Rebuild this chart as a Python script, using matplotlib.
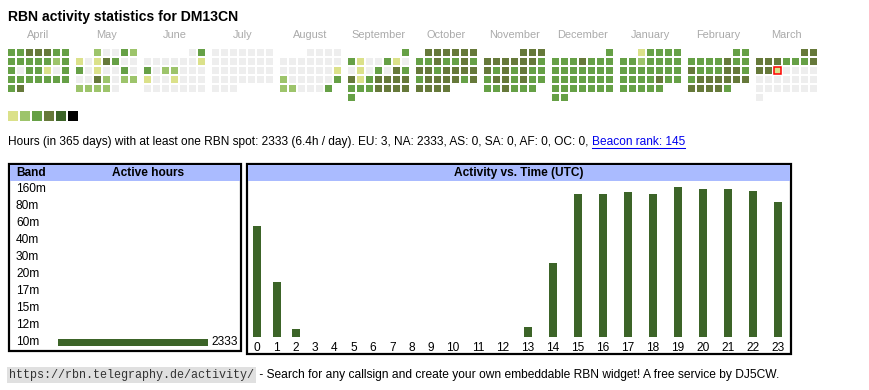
import datetime as dt
import matplotlib
matplotlib.use("Agg")
import matplotlib.pyplot as plt
from matplotlib.patches import Rectangle
from matplotlib.transforms import blended_transform_factory

W, H, DPI = 870, 390, 100
SANS = "Liberation Sans"
MONO = "Liberation Mono"

# ---------------- data ----------------
title = "RBN activity statistics for DM13CN"
month_names = ["April", "May", "June", "July", "August", "September",
               "October", "November", "December", "January", "February", "March"]
month_keys = [(2024, 4), (2024, 5), (2024, 6), (2024, 7), (2024, 8), (2024, 9),
              (2024, 10), (2024, 11), (2024, 12), (2025, 1), (2025, 2), (2025, 3)]
# daily activity level: 0 none, 1..5 increasing
apr = [3, 3, 4, 4, 4, 3, 3, 3, 3, 3, 3, 3, 2, 3, 3, 0, 3, 3, 1, 0, 3, 3, 3, 3, 3, 3, 3, 3, 3, 4]
may = [2, 0, 0, 3, 2, 1, 0, 1, 4, 3, 0, 0, 3, 0, 1, 0, 0, 3, 0, 0, 0, 4, 2, 0, 2, 2, 2, 2, 2, 2, 0]
jun = [0, 3, 0, 0, 0, 0, 0, 0, 1, 3, 0, 2, 2, 0, 0, 0, 1, 0, 0, 1, 0, 0, 0, 0, 0, 0, 0, 0, 0, 0]
jul = [0, 0, 0, 0, 0, 0, 0, 0, 0, 0, 0, 0, 0, 0, 0, 0, 0, 0, 0, 0, 0, 0, 0, 0, 0, 0, 0, 0, 0, 0, 0]
aug = [0, 0, 0, 0, 0, 0, 0, 0, 0, 0, 0, 0, 0, 0, 0, 0, 0, 1, 2, 0, 0, 0, 0, 0, 3, 2, 2, 0, 0, 0, 3]
sep = [3, 3, 1, 0, 0, 3, 1, 0, 0, 1, 0, 3, 0, 4, 3, 4, 1, 3, 4, 4, 4, 4, 3, 3, 3, 4, 4, 4, 4, 3]
oct_ = [4, 4, 4, 4, 4, 4, 3, 3, 4, 3, 3, 4, 3, 4, 4, 3, 4, 4, 4, 4, 3, 4, 4, 4, 4, 3, 4, 4, 4, 4, 4]
nov = [4, 4, 4, 4, 4, 4, 4, 4, 4, 3, 4, 3, 4, 3, 4, 3, 3, 3, 4, 4, 3, 4, 3, 3, 3, 3, 4, 3, 3, 3]
dec = [3, 3, 3, 3, 4, 3, 3, 3, 3, 3, 3, 3, 3, 3, 3, 3, 3, 3, 3, 3, 3, 3, 3, 3, 3, 3, 3, 3, 3, 3, 3]
jan = [1, 3, 3, 3, 3, 3, 3, 2, 3, 3, 3, 3, 3, 3, 3, 3, 3, 3, 3, 3, 3, 3, 3, 4, 3, 3, 3, 3, 3, 3, 3]
feb = [3, 3, 3, 3, 3, 3, 4, 3, 3, 4, 3, 3, 3, 4, 4, 3, 3, 4, 4, 4, 4, 4, 4, 4, 4, 4, 4, 3]
mar = [4, 4, 4, 4, 4, 3, 3, 3, 4, 4, 4, 1, 0, 0, 0, 0, 0, 0, 0, 0, 0, 0, 0, 0, 0, 0, 0, 0, 0, 0, 0]
daily = [apr, may, jun, jul, aug, sep, oct_, nov, dec, jan, feb, mar]
today = dt.date(2025, 3, 12)

level_colors = ["#eeeeee", "#dbe18a", "#9dc46b", "#66a046", "#66793a", "#3c6428", "#000000"]

info_text = ("Hours (in 365 days) with at least one RBN spot: 2333 (6.4h / day). "
             "EU: 3, NA: 2333, AS: 0, SA: 0, AF: 0, OC: 0, ")
link_text = "Beacon rank: 145"

bands = ["160m", "80m", "60m", "40m", "30m", "20m", "17m", "15m", "12m", "10m"]
band_hours = [0, 0, 0, 0, 0, 0, 0, 0, 0, 2333]

hours = [str(h) for h in range(24)]
hour_activity = [166, 82, 12, 0, 0, 0, 0, 0, 0, 0, 0, 0, 0, 15, 110,
                 214, 214, 217, 214, 224, 222, 222, 219, 202]

footer_url = "https://rbn.telegraphy.de/activity/"
footer_text = " - Search for any callsign and create your own embeddable RBN widget! A free service by DJ5CW."

bar_color = "#3c6428"
header_blue = "#aabbff"

# ---------------- figure ----------------
fig = plt.figure(figsize=(W / DPI, H / DPI), dpi=DPI)
fig.patch.set_facecolor("white")


def px_rect(x0, y0, x1, y1):
    return [x0 / W, 1 - y1 / H, (x1 - x0) / W, (y1 - y0) / H]


canvas = fig.add_axes([0, 0, 1, 1])
canvas.set_xlim(0, W)
canvas.set_ylim(H, 0)
canvas.axis("off")

canvas.text(8, 20.5, title, fontsize=10.1, fontweight="bold", family=SANS,
            va="baseline", ha="left", color="#000")

# calendar
CELL, PITCH, MONTH_PITCH, X0, Y0 = 7, 9, 68, 8, 49
for i, ((yy, mm), vals) in enumerate(zip(month_keys, daily)):
    first_wd = dt.date(yy, mm, 1).weekday()
    bx = X0 + i * MONTH_PITCH
    canvas.text(bx + (6 * PITCH + CELL) / 2, 38, month_names[i], fontsize=7.9,
                family=SANS, color="#aaaaaa", ha="center", va="baseline")
    for d, lv in enumerate(vals):
        slot = first_wd + d
        col, row = slot % 7, slot // 7
        x = bx + col * PITCH
        y = Y0 + row * PITCH
        is_today = dt.date(yy, mm, d + 1) == today
        canvas.add_patch(Rectangle((x, y), CELL, CELL, facecolor=level_colors[lv],
                                   edgecolor="#ff0000" if is_today else "none",
                                   linewidth=1.1 if is_today else 0))

# legend squares
for k, c in enumerate(level_colors[1:]):
    canvas.add_patch(Rectangle((8 + 12 * k, 111), 10, 10, facecolor=c, edgecolor="none"))

fig.canvas.draw()
r = fig.canvas.get_renderer()

# info line with link
t = canvas.text(8, 145, info_text, fontsize=8.6, family=SANS, va="baseline", ha="left")
bb = t.get_window_extent(r)
lt = canvas.text(bb.x1, 145, link_text, fontsize=8.6, family=SANS, va="baseline",
                 ha="left", color="#0000ee")
lbb = lt.get_window_extent(r)
canvas.plot([lbb.x0, lbb.x1], [147.7, 147.7], color="#0000ee", lw=0.75)

# boxes
canvas.add_patch(Rectangle((9.2, 164.3), 241.2 - 9.2, 351.4 - 164.3, facecolor="none",
                           edgecolor="black", linewidth=1.6))
canvas.add_patch(Rectangle((10.2, 165.3), 240 - 10.2, 180.7 - 165.3, facecolor=header_blue,
                           edgecolor="none"))
canvas.add_patch(Rectangle((246.6, 164.3), 791.3 - 246.6, 353.8 - 164.3, facecolor="none",
                           edgecolor="black", linewidth=1.6))
canvas.add_patch(Rectangle((247.8, 165.3), 790.1 - 247.8, 180.7 - 165.3, facecolor=header_blue,
                           edgecolor="none"))
canvas.text(16, 173, "Band", fontsize=8.6, fontweight="bold", family=SANS, va="center")
canvas.text(148, 173, "Active hours", fontsize=8.6, fontweight="bold", family=SANS,
            va="center", ha="center")
canvas.text(519, 173, "Activity vs. Time (UTC)", fontsize=8.6, fontweight="bold",
            family=SANS, va="center", ha="center")

# band bars
axb = fig.add_axes(px_rect(58, 180.8, 208, 350.8))
axb.set_xlim(0, max(band_hours))
axb.set_ylim(len(bands) - 0.5, -0.5)
axb.axis("off")
idx = list(range(len(bands)))
axb.barh(idx, band_hours, height=0.39, color=bar_color)
tr = blended_transform_factory(canvas.transData, axb.transData)
for k, name in enumerate(bands):
    axb.text(16, k, name, transform=tr, fontsize=8.6, family=SANS, va="center", ha="left")
    if band_hours[k] > 0:
        axb.annotate(str(band_hours[k]), (band_hours[k], k), xytext=(2.4, 0),
                     textcoords="offset points", fontsize=8.6, family=SANS,
                     va="center", ha="left")

# hourly bars
widths = [13.6 + 5.7 * len(h) for h in hours]
centers = []
acc = 0
for w in widths:
    centers.append(acc + w / 2)
    acc += w
axh = fig.add_axes(px_rect(247.65, 181, 247.65 + acc, 337))
axh.set_xlim(0, acc)
axh.set_ylim(0, max(hour_activity) * 1.042)
axh.bar(centers, hour_activity, width=8, color=bar_color)
axh.set_xticks(centers, hours, fontsize=8.6, family=SANS)
axh.tick_params(axis="x", length=0, pad=3.3)
axh.set_yticks([])
for s in axh.spines.values():
    s.set_visible(False)
axh.patch.set_alpha(0)

# footer
ft = canvas.text(9, 378, footer_url, fontsize=8.5, family=MONO, color="#333333",
                 va="baseline", ha="left",
                 bbox=dict(facecolor="#e0e0e0", edgecolor="none", pad=1.2))
fbb = ft.get_window_extent(r)
canvas.text(fbb.x1 + 2, 378, footer_text, fontsize=8.65, family=SANS, va="baseline", ha="left")

fig.savefig("out.png", dpi=DPI)
